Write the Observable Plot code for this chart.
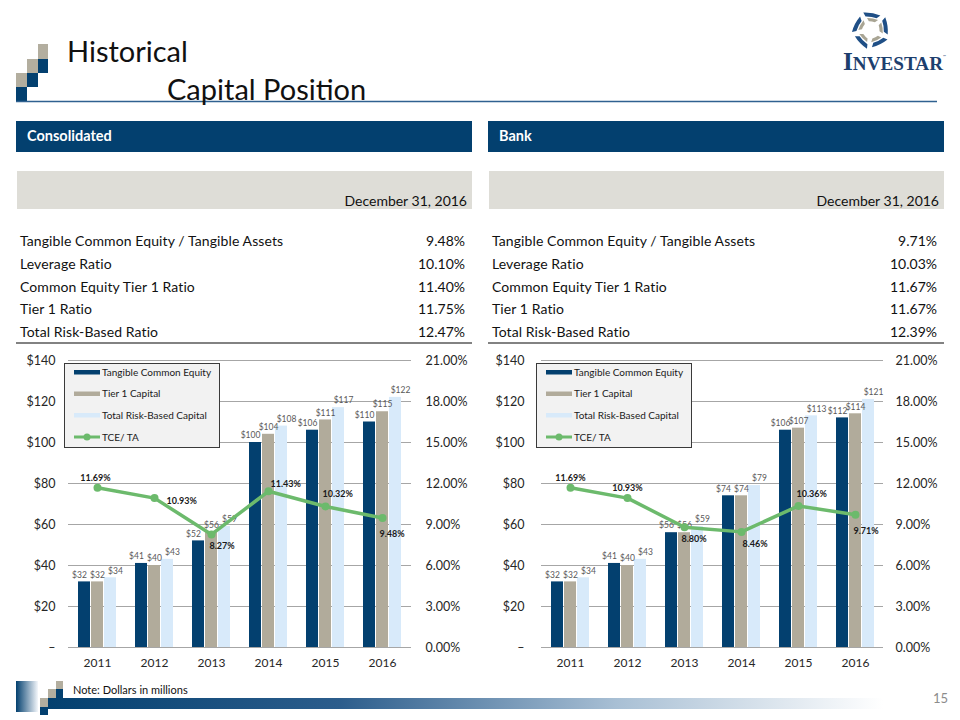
<!DOCTYPE html>
<html><head><meta charset="utf-8">
<script src="https://cdn.jsdelivr.net/npm/d3@7"></script>
<script src="https://cdn.jsdelivr.net/npm/@observablehq/plot@0.6"></script>
<style>
body{margin:0;background:#fff;}
#page{position:relative;width:960px;height:720px;overflow:hidden;font-family:Lato,"Open Sans",sans-serif;}
#page > svg, #page > div{position:absolute;}
</style>
</head><body>
<div id="page"></div>
<script>
// ---------- data ----------
const years = ["2011","2012","2013","2014","2015","2016"];
const seriesNames = ["Tangible Common Equity","Tier 1 Capital","Total Risk-Based Capital"];
const lineName = "TCE/ TA";
const consTCE   = [32, 41, 52, 100, 106, 110];
const consTier1 = [32, 40, 56, 104, 111, 115];
const consTRBC  = [34, 43, 59, 108, 117, 122];
const consRatio = [11.69, 10.93, 8.27, 11.43, 10.32, 9.48];
const bankTCE   = [32, 41, 56, 74, 106, 112];
const bankTier1 = [32, 40, 56, 74, 107, 114];
const bankTRBC  = [34, 43, 59, 79, 113, 121];
const bankRatio = [11.69, 10.93, 8.80, 8.46, 10.36, 9.71];
const dollarTicks = [0, 20, 40, 60, 80, 100, 120, 140];
const pctMax = 21;
const tableLabels = ["Tangible Common Equity / Tangible Assets","Leverage Ratio","Common Equity Tier 1 Ratio","Tier 1 Ratio","Total Risk-Based Ratio"];
const consTable = ["9.48%","10.10%","11.40%","11.75%","12.47%"];
const bankTable = ["9.71%","10.03%","11.67%","11.67%","12.39%"];
const panelTitles = ["Consolidated","Bank"];
const dateLabel = "December 31, 2016";
const titleLine1 = "Historical";
const titleLine2 = "Capital Position";
const noteText = "Note: Dollars in millions";
const pageNum = "15";

// ---------- styles ----------
const NAVY = "#03406f", GREIGE = "#b1ab9b", LIGHT = "#d8eafa", GREEN = "#6cba6c";
const barColors = [NAVY, GREIGE, LIGHT];
const barDx = [-13, 0, 13];
const labelDx = [-18, 0, 18];
const k = 140 / pctMax;
// label placement for percentage labels: [anchor, dx, dy]
const consPlace = [["middle",-2,-10],["start",12,3],["start",-2,12],["start",2,-7],["start",-3,-12],["start",-3,16]];
const bankPlace = [["middle",0,-10],["middle",0,-10],["start",-3,12],["start",1,12],["start",-2,-12],["start",-2,16]];

const page = d3.select("#page");

// ---------- background decoration & texts ----------
const bg = page.append("svg").attr("width",960).attr("height",720).style("left","0px").style("top","0px");
const defs = bg.append("defs");
const g1 = defs.append("linearGradient").attr("id","blockGrad");
g1.append("stop").attr("offset","0%").attr("stop-color",NAVY);
g1.append("stop").attr("offset","100%").attr("stop-color","#f4f7fb");
const g2 = defs.append("linearGradient").attr("id","barGrad");
g2.append("stop").attr("offset","0%").attr("stop-color",NAVY);
g2.append("stop").attr("offset","35%").attr("stop-color","#2c5d8c");
g2.append("stop").attr("offset","68%").attr("stop-color","#a8bfd4");
g2.append("stop").attr("offset","100%").attr("stop-color","#ffffff");

// top-left squares
const sq = [[38,44,10,15,"#b3ae9f"],[27,59,11,14,"#b3ae9f"],[38,59,10,14,NAVY],[16,73,11,14,"#b3ae9f"],[27,73,11,14,NAVY],[16,87,11,14,NAVY]];
sq.forEach(([x,y,w,h,c]) => bg.append("rect").attr("x",x).attr("y",y).attr("width",w).attr("height",h).attr("fill",c));
bg.append("line").attr("x1",16).attr("x2",937).attr("y1",101.5).attr("y2",101.5).attr("stroke","#2f6190").attr("stroke-width",1.6);
bg.append("text").attr("x",67).attr("y",62).attr("font-size",29).attr("fill","#111").text(titleLine1);
bg.append("text").attr("x",167).attr("y",100).attr("font-size",29).attr("fill","#111").text(titleLine2);

// logo
const logo = bg.append("g").attr("transform","translate(871,30) scale(1.12)");
for (let i = 0; i < 5; i++) {
  const gp = logo.append("g").attr("transform",`rotate(${i*72 + 8})`);
  gp.append("path").attr("d","M-9,-14.5 Q-1,-16 6.5,-14 L3.5,-11 Q-1,-12.2 -6.5,-11.3 Z").attr("fill","#1f4f86");
  gp.append("path").attr("d","M-5,-10.2 Q0,-11 5,-9.8 L2.5,-7.3 Q-0.5,-7.9 -3,-7.5 Z").attr("fill","#a9a594");
}
const lt = bg.append("text").attr("x",843).attr("y",70).attr("font-family","'Liberation Serif','DejaVu Serif',serif").attr("fill","#1d3f6e")
  .attr("font-weight","bold").attr("textLength",100).attr("lengthAdjust","spacingAndGlyphs");
lt.append("tspan").attr("font-size",25).text("I");
lt.append("tspan").attr("font-size",19).text("NVESTAR");
bg.append("text").attr("x",943).attr("y",58).attr("font-size",4).attr("fill","#1d3f6e").text("™");

// panels
[0,1].forEach(p => {
  const x0 = p === 0 ? 16 : 488;
  bg.append("rect").attr("x",x0).attr("y",121).attr("width",456).attr("height",31).attr("fill",NAVY);
  bg.append("text").attr("x",x0+11).attr("y",141).attr("font-size",14.5).attr("font-weight","bold").attr("fill","#fff").text(panelTitles[p]);
  bg.append("rect").attr("x",x0+1).attr("y",171).attr("width",455).attr("height",38).attr("fill","#deddd7");
  bg.append("text").attr("x",x0+451).attr("y",206).attr("font-size",14).attr("text-anchor","end").attr("fill","#111").text(dateLabel);
  const vals = p === 0 ? consTable : bankTable;
  tableLabels.forEach((lab,i) => {
    const yb = 246 + i*22.75;
    bg.append("text").attr("x",x0+4).attr("y",yb).attr("font-size",14).attr("letter-spacing",0.1).attr("fill","#111").text(lab);
    bg.append("text").attr("x",x0+449).attr("y",yb).attr("font-size",14).attr("text-anchor","end").attr("fill","#111").text(vals[i]);
  });
  bg.append("line").attr("x1",x0).attr("x2",x0+456).attr("y1",343).attr("y2",343).attr("stroke","#595959").attr("stroke-width",1.6);
});

// footer
bg.append("rect").attr("x",16).attr("y",681).attr("width",22).attr("height",31).attr("fill","url(#blockGrad)");
const fsq = [[56,681,7,8,"#b3ae9f"],[48,689,8,9,"#b3ae9f"],[56,689,7,9,NAVY],[40,698,8,9,"#b3ae9f"],[40,707,8,8,NAVY]];
fsq.forEach(([x,y,w,h,c]) => bg.append("rect").attr("x",x).attr("y",y).attr("width",w).attr("height",h).attr("fill",c));
bg.append("rect").attr("x",48).attr("y",698).attr("width",835).attr("height",11).attr("fill","url(#barGrad)");
bg.append("text").attr("x",73).attr("y",694).attr("font-size",11).attr("fill","#111").text(noteText);
bg.append("text").attr("x",948).attr("y",703).attr("font-size",13).attr("text-anchor","end").attr("fill","#8c8c8c").text(pageNum);

// ---------- charts ----------
function makeChart(tce, t1, trbc, ratio, place, m) {
  const vals = [tce, t1, trbc];
  const bars = vals.flatMap((arr, s) => arr.map((v, i) => ({year: years[i], s, v})));
  const pts = ratio.map((p, i) => ({year: years[i], p, v: p * k}));
  const marks = [Plot.ruleY(dollarTicks, {stroke: "#a6a6a6", strokeWidth: 1})];
  [0,1,2].forEach(s => marks.push(Plot.barY(bars.filter(b => b.s === s), {x: "year", y: "v", fill: barColors[s], dx: barDx[s]})));
  [0,1,2].forEach(s => marks.push(Plot.text(bars.filter(b => b.s === s), {x: "year", y: "v", text: b => "$" + b.v, dx: labelDx[s], dy: -7, fontSize: 8.5, fill: "#595959"})));
  marks.push(Plot.line(pts, {x: "year", y: "v", stroke: GREEN, strokeWidth: 3.5}));
  marks.push(Plot.dot(pts, {x: "year", y: "v", r: 4, fill: GREEN}));
  pts.forEach((pt, i) => marks.push(Plot.text([pt], {x: "year", y: "v", text: d => d.p.toFixed(2) + "%", textAnchor: place[i][0], dx: place[i][1], dy: place[i][2], fontSize: 9, fontWeight: "bold", fill: "#1a1a1a"})));
  marks.push(Plot.axisX({tickSize: 0, tickPadding: 11, fontSize: 12, label: null}));
  marks.push(Plot.axisY(dollarTicks, {anchor: "left", tickSize: 0, tickPadding: m.lp, fontSize: 12.5, label: null, tickFormat: d => d === 0 ? "–" : "$" + d}));
  marks.push(Plot.axisY(dollarTicks, {anchor: "right", tickSize: 0, tickPadding: m.rp, fontSize: 12.5, label: null, tickFormat: d => (d / k).toFixed(2) + "%"}));
  return Plot.plot({
    width: 480, height: 335, marginTop: 15, marginBottom: 33, marginLeft: m.left, marginRight: m.right,
    x: {type: "band", domain: years, paddingInner: 0.79, paddingOuter: 0.395, axis: null},
    y: {domain: [0, 140], axis: null},
    style: {fontFamily: "Lato, 'Open Sans', sans-serif", color: "#262626", background: "transparent", overflow: "visible"},
    marks
  });
}
const c1 = makeChart(consTCE, consTier1, consTRBC, consRatio, consPlace, {left: 68, right: 69, lp: 13, rp: 14});
const c2 = makeChart(bankTCE, bankTier1, bankTRBC, bankRatio, bankPlace, {left: 61, right: 77, lp: 17, rp: 12});
page.node().appendChild(c1); d3.select(c1).style("left","0px").style("top","345px");
page.node().appendChild(c2); d3.select(c2).style("left","480px").style("top","345px");

// ---------- legends ----------
const lg = page.append("svg").attr("width",960).attr("height",720).style("left","0px").style("top","0px").style("pointer-events","none");
[64, 536].forEach(lx => {
  const g = lg.append("g").attr("transform",`translate(${lx},363)`);
  g.append("rect").attr("x",0.5).attr("y",0.5).attr("width",155).attr("height",84).attr("fill","#f2f2f2").attr("stroke","#3a3a3a").attr("stroke-width",1);
  const rows = [9, 30.5, 52, 74];
  seriesNames.forEach((name, i) => {
    g.append("rect").attr("x",10).attr("y",rows[i]-2).attr("width",26).attr("height",4.5).attr("fill",barColors[i]);
    g.append("text").attr("x",38).attr("y",rows[i]+3.5).attr("font-size",10).attr("fill","#1a1a1a").text(name);
  });
  g.append("line").attr("x1",10).attr("x2",36).attr("y1",rows[3]).attr("y2",rows[3]).attr("stroke",GREEN).attr("stroke-width",3);
  g.append("circle").attr("cx",23).attr("cy",rows[3]).attr("r",3.5).attr("fill",GREEN);
  g.append("text").attr("x",38).attr("y",rows[3]+3.5).attr("font-size",10).attr("fill","#1a1a1a").text(lineName);
});
</script>
</body></html>
